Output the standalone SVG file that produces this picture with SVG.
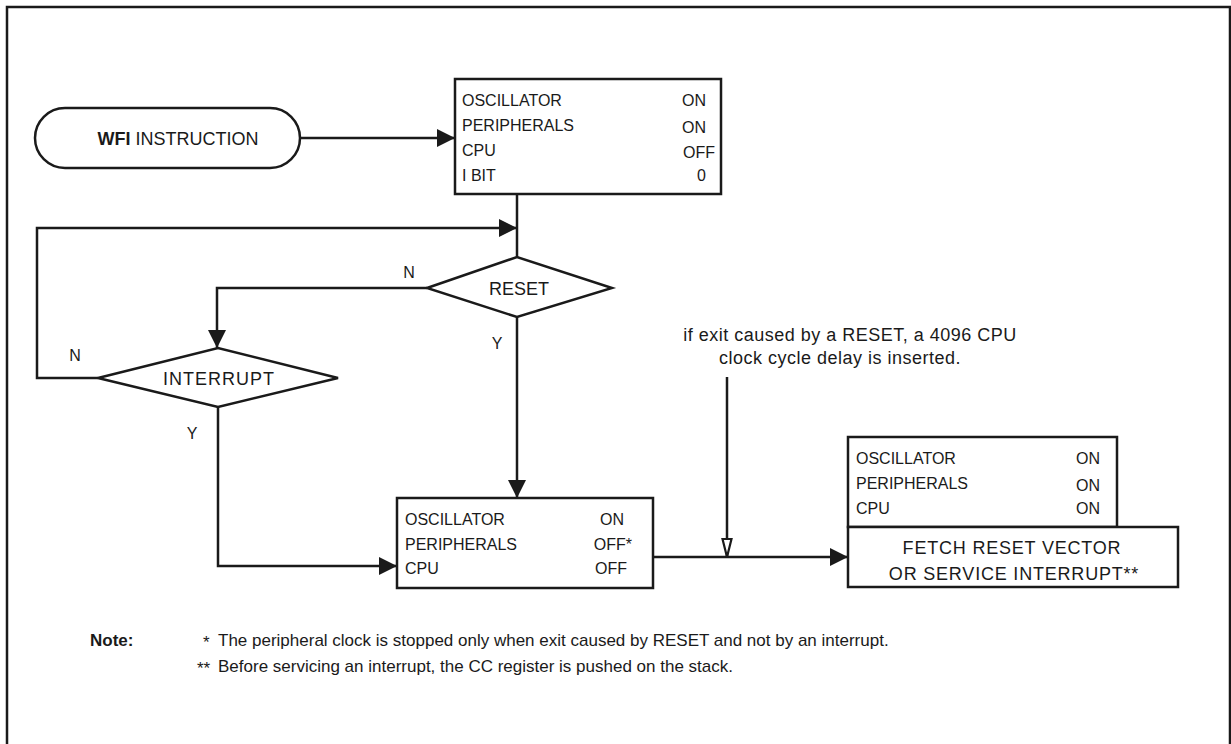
<svg xmlns="http://www.w3.org/2000/svg" width="1231" height="744" viewBox="0 0 1231 744">
<style>
.t{font-family:"Liberation Sans",Arial,sans-serif;font-size:16px;fill:#1a1a1a}
.n{font-family:"Liberation Sans",Arial,sans-serif;font-size:17px;fill:#1a1a1a}
.a{font-family:"Liberation Sans",Arial,sans-serif;font-size:18px;letter-spacing:0.5px;fill:#1a1a1a}
.d{font-family:"Liberation Sans",Arial,sans-serif;font-size:18px;fill:#1a1a1a}
.b{font-weight:bold}
.s{fill:none;stroke:#1a1a1a;stroke-width:2.5}
.box{fill:#fff;stroke:#1a1a1a;stroke-width:2.5}
.e{text-anchor:end}
.m{text-anchor:middle}
</style>
<defs>
<marker id="ah2" markerWidth="18" markerHeight="18" refX="18" refY="9" orient="auto" markerUnits="userSpaceOnUse" viewBox="0 0 18 18">
<path d="M0,0 L18,9 L0,18 Z" fill="#1a1a1a"/>
</marker>
<marker id="hollow" markerWidth="20" markerHeight="12" refX="19" refY="6" orient="auto" markerUnits="userSpaceOnUse" viewBox="0 0 20 12">
<path d="M1,1.5 L19,6 L1,10.5 Z" fill="#fff" stroke="#1a1a1a" stroke-width="2.2"/>
</marker>
</defs>
<rect x="0" y="0" width="1231" height="744" fill="#fff"/>
<path class="s" d="M7,750 V7 H1230 V750" stroke-width="3"/>

<g id="connectors">
<path class="s" d="M300,138 H455" marker-end="url(#ah2)"/>
<path class="s" d="M517,194 V257"/>
<path class="s" d="M98,378 H37 V228 H517" marker-end="url(#ah2)"/>
<path class="s" d="M427,288 H217 V348" marker-end="url(#ah2)"/>
<path class="s" d="M517,317 V498" marker-end="url(#ah2)"/>
<path class="s" d="M218,407 V566 H397" marker-end="url(#ah2)"/>
<path class="s" d="M653,557 H848" marker-end="url(#ah2)"/>
<path class="s" d="M727,377 V557" marker-end="url(#hollow)"/>
<text class="t m" x="409" y="278">N</text>
<text class="t m" x="75" y="361">N</text>
<text class="t m" x="497" y="349">Y</text>
<text class="t m" x="192" y="439">Y</text>
</g>

<g id="wfi">
<rect class="box" x="35" y="108" width="265" height="60" rx="30" ry="30"/>
<text class="d m" x="178" y="145"><tspan class="b">WFI</tspan> INSTRUCTION</text>
</g>

<g id="state1">
<rect class="box" x="455" y="79" width="266" height="115"/>
<text class="t" x="462" y="106">OSCILLATOR</text>
<text class="t" x="462" y="131">PERIPHERALS</text>
<text class="t" x="462" y="156">CPU</text>
<text class="t" x="462" y="181">I BIT</text>
<text class="t e" x="706" y="106">ON</text>
<text class="t e" x="706" y="133">ON</text>
<text class="t e" x="715" y="158">OFF</text>
<text class="t e" x="706" y="181">0</text>
</g>

<g id="reset">
<path class="box" d="M427,288 L517,257 L612,288 L517,317 Z"/>
<text class="d m" x="519" y="295">RESET</text>
</g>

<g id="interrupt">
<path class="box" d="M98,378 L218,348 L338,378 L218,407 Z"/>
<text class="d m" x="219" y="385" letter-spacing="1">INTERRUPT</text>
</g>

<g id="state2">
<rect class="box" x="397" y="498" width="256" height="90"/>
<text class="t" x="405" y="525">OSCILLATOR</text>
<text class="t" x="405" y="550">PERIPHERALS</text>
<text class="t" x="405" y="574">CPU</text>
<text class="t e" x="624" y="525">ON</text>
<text class="t e" x="632" y="550">OFF*</text>
<text class="t e" x="627" y="574">OFF</text>
</g>

<g id="annotation">
<text class="a m" x="850" y="341">if exit caused by a RESET, a 4096 CPU</text>
<text class="a m" x="840" y="364">clock cycle delay is inserted.</text>
</g>

<g id="state3">
<rect class="box" x="848" y="437" width="269" height="90"/>
<text class="t" x="856" y="464">OSCILLATOR</text>
<text class="t" x="856" y="489">PERIPHERALS</text>
<text class="t" x="856" y="514">CPU</text>
<text class="t e" x="1100" y="464">ON</text>
<text class="t e" x="1100" y="491">ON</text>
<text class="t e" x="1100" y="514">ON</text>
</g>

<g id="fetch">
<rect class="box" x="848" y="527" width="330" height="60"/>
<text class="d m" x="1012" y="554" letter-spacing="0.8">FETCH RESET VECTOR</text>
<text class="d m" x="1014" y="580" letter-spacing="0.8">OR SERVICE INTERRUPT**</text>
</g>

<g id="notes">
<text class="n b" x="90" y="646">Note:</text>
<text class="n" x="203" y="648" font-size="13">*</text>
<text class="n" x="218" y="646">The peripheral clock is stopped only when exit caused by RESET and not by an interrupt.</text>
<text class="n" x="197" y="674" font-size="13">**</text>
<text class="n" x="218" y="672">Before servicing an interrupt, the CC register is pushed on the stack.</text>
</g>
</svg>
